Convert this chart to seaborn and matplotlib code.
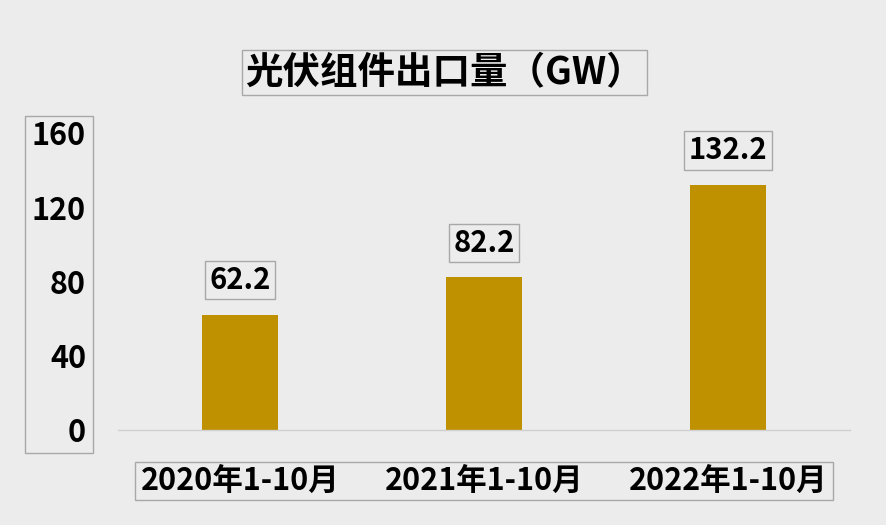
import matplotlib
matplotlib.use('Agg')
import matplotlib.pyplot as plt
import seaborn as sns
from matplotlib.patches import Rectangle

periods = ['2020年1-10月', '2021年1-10月', '2022年1-10月']
export_gw = [62.2, 82.2, 132.2]
yticks = [0, 40, 80, 120, 160]

sns.set_style('white')
plt.rcParams['font.family'] = ['Noto Sans CJK SC', 'DejaVu Sans']
plt.rcParams['font.weight'] = 'heavy'
plt.rcParams['text.color'] = 'black'
plt.rcParams['xtick.color'] = 'black'
plt.rcParams['ytick.color'] = 'black'

bg = '#ececec'
box_ec = '#a8a8a8'

fig = plt.figure(figsize=(8.86, 5.25), dpi=100, facecolor=bg)
ax = fig.add_axes([0.1332, 0.181, 0.8262, 0.5657])
ax.set_facecolor(bg)

sns.barplot(x=periods, y=export_gw, color='#bf9000', saturation=1, width=0.31,
            linewidth=0, ax=ax)

ax.set_ylim(0, 160)
ax.set_xlim(-0.5, 2.5)
ax.set_yticks(yticks)
ax.set_yticklabels([str(t) for t in yticks], fontsize=22, fontweight='heavy')
ax.set_xticks(range(len(periods)))
ax.set_xticklabels(periods, fontsize=22, fontweight='heavy')
ax.tick_params(axis='y', length=0, pad=23)
ax.tick_params(axis='x', length=0, pad=25)
ax.set_xlabel('')
ax.set_ylabel('')
for side in ['top', 'right', 'left']:
    ax.spines[side].set_visible(False)
ax.spines['bottom'].set_color('#d0d0d0')
ax.spines['bottom'].set_linewidth(1)

ax.bar_label(ax.containers[0], labels=[f'{v:.1f}' for v in export_gw],
             padding=14, fontsize=21, fontweight='heavy',
             bbox=dict(boxstyle='square,pad=0.15', fc='none', ec=box_ec, lw=1))

fig.text(0.502, 0.861, '光伏组件出口量（GW）', ha='center', va='center',
         fontsize=27, fontweight='heavy',
         bbox=dict(boxstyle='square,pad=0.08', fc='none', ec=box_ec, lw=1))

# boxes around the tick label groups
fig.canvas.draw()
renderer = fig.canvas.get_renderer()
W, H = fig.bbox.width, fig.bbox.height


def group_box(labels, padx, pady):
    exts = [t.get_window_extent(renderer) for t in labels if t.get_text()]
    x0 = min(e.x0 for e in exts) - padx
    x1 = max(e.x1 for e in exts) + padx
    y0 = min(e.y0 for e in exts) - pady
    y1 = max(e.y1 for e in exts) + pady
    fig.patches.append(Rectangle((x0 / W, y0 / H), (x1 - x0) / W, (y1 - y0) / H,
                                 transform=fig.transFigure, fill=False,
                                 ec=box_ec, lw=1))


group_box(ax.get_yticklabels(), 7, 4)
group_box(ax.get_xticklabels(), 6, 3)

fig.savefig('out.png', dpi=100, facecolor=bg)
